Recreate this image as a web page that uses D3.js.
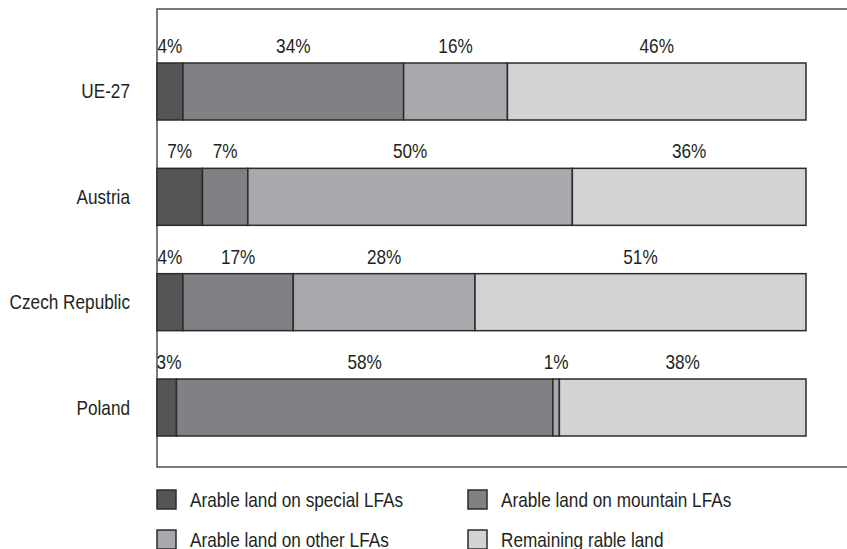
<!DOCTYPE html>
<html>
<head>
<meta charset="utf-8">
<script src="https://cdn.jsdelivr.net/npm/d3@7"></script>
<style>
  html, body { margin: 0; padding: 0; background: #fff; }
  svg { display: block; }
  text { font-family: "Liberation Sans", Arial, sans-serif; fill: #231f20; }
</style>
</head>
<body>
<svg id="chart" width="847" height="549"></svg>
<script>
const categories = ["UE-27", "Austria", "Czech Republic", "Poland"];
const seriesNames = ["Arable land on special LFAs", "Arable land on mountain LFAs", "Arable land on other LFAs", "Remaining rable land"];
const specialLFA  = [4, 7, 4, 3];
const mountainLFA = [34, 7, 17, 58];
const otherLFA    = [16, 50, 28, 1];
const remaining   = [46, 36, 51, 38];
const pctLabels = [
  ["4%", "34%", "16%", "46%"],
  ["7%", "7%", "50%", "36%"],
  ["4%", "17%", "28%", "51%"],
  ["3%", "58%", "1%", "38%"]
];
const colors = ["#545556", "#808184", "#a7a9ac", "#d1d3d4"];

const NARROW = 0.86;
const svg = d3.select("#chart");
const x = d3.scaleLinear().domain([0, 100]).range([157, 806]);
const y = d3.scaleBand().domain(categories).range([63, 436]).paddingInner(0.459).paddingOuter(0);

const seriesArrays = [specialLFA, mountainLFA, otherLFA, remaining];
const rows = categories.map((c, i) => {
  const r = { cat: c };
  seriesNames.forEach((s, k) => r[s] = seriesArrays[k][i]);
  return r;
});
const stack = d3.stack().keys(seriesNames)(rows);

// frame
svg.append("path")
  .attr("d", "M847,9H157V467H847")
  .attr("fill", "none").attr("stroke", "#4d4d4f").attr("stroke-width", 1.5);

stack.forEach((layer, k) => {
  const g = svg.append("g");
  g.selectAll("rect").data(layer).join("rect")
    .attr("x", d => x(d[0]))
    .attr("y", d => y(d.data.cat))
    .attr("width", d => x(d[1]) - x(d[0]))
    .attr("height", y.bandwidth())
    .attr("fill", colors[k])
    .attr("stroke", "#2b2b2c").attr("stroke-width", 1.5);
  g.selectAll("text").data(layer).join("text")
    .attr("transform", d => {
      const cx = Math.max((x(d[0]) + x(d[1])) / 2, 169);
      return `translate(${cx},${y(d.data.cat) - 10}) scale(${NARROW},1)`;
    })
    .attr("text-anchor", "middle")
    .attr("font-size", 20)
    .text((d, i) => pctLabels[i][k]);
});

// category labels
svg.append("g").selectAll("text").data(categories).join("text")
  .attr("transform", d => `translate(130,${y(d) + y.bandwidth() / 2}) scale(${NARROW},1)`)
  .attr("dy", "0.35em")
  .attr("text-anchor", "end")
  .attr("font-size", 20)
  .text(d => d);

// legend
const legPos = [[157, 490], [468, 490], [157, 530], [468, 530]];
const lg = svg.append("g").selectAll("g").data(seriesNames).join("g")
  .attr("transform", (d, i) => `translate(${legPos[i][0]},${legPos[i][1]})`);
lg.append("rect").attr("width", 19).attr("height", 19)
  .attr("fill", (d, i) => colors[i]).attr("stroke", "#2b2b2c").attr("stroke-width", 1.5);
lg.append("text")
  .attr("transform", `translate(33,17) scale(${NARROW},1)`)
  .attr("font-size", 20).text(d => d);
</script>
</body>
</html>
